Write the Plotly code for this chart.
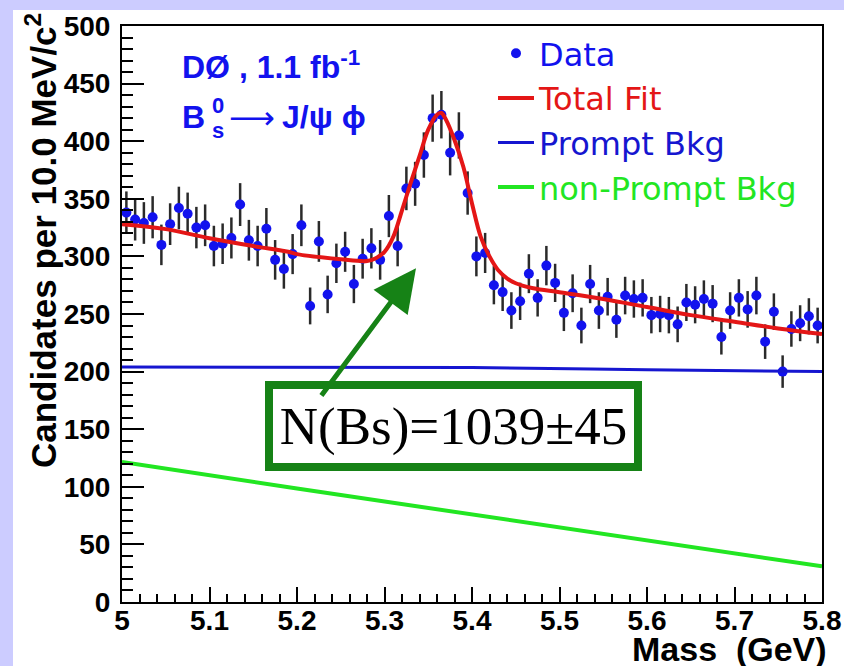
import plotly.graph_objects as go

# ---------------- data ----------------
bin_lo = 5.005
bin_width = 0.01
counts = [338, 332, 329, 334, 310, 328, 342, 337, 325, 327,
          309, 311, 316, 345, 314, 309, 324, 297, 289, 302,
          327, 257, 313, 267, 294, 304, 276, 298, 307, 297,
          335, 309, 359, 363, 388, 420, 423, 390, 405, 355,
          300, 303, 275, 269, 253, 261, 285, 264, 292, 277,
          251, 268, 240, 276, 253, 265, 245, 266, 263, 264,
          249, 250, 249, 241, 260, 258, 263, 259, 230, 253,
          264, 254, 266, 226, 252, 200, 237, 242, 248, 240]
errors = [18.4, 18.2, 18.1, 18.3, 17.6, 18.1, 18.5, 18.4, 18.0, 18.1,
          17.6, 17.6, 17.8, 18.6, 17.7, 17.6, 18.0, 17.2, 17.0, 17.4,
          18.1, 16.0, 17.7, 16.3, 17.1, 17.4, 16.6, 17.3, 17.5, 17.2,
          18.3, 17.6, 18.9, 19.1, 19.7, 20.5, 20.6, 19.7, 20.1, 18.8,
          17.3, 17.4, 16.6, 16.4, 15.9, 16.2, 16.9, 16.2, 17.1, 16.6,
          15.8, 16.4, 15.5, 16.6, 15.9, 16.3, 15.7, 16.3, 16.2, 16.2,
          15.8, 15.8, 15.8, 15.5, 16.1, 16.1, 16.2, 16.1, 15.2, 15.9,
          16.2, 15.9, 16.3, 15.0, 15.9, 14.1, 15.4, 15.6, 15.7, 15.5]
mass = [round(bin_lo + bin_width * i, 3) for i in range(len(counts))]

fit_mass = [5.00, 5.05, 5.10, 5.15, 5.19, 5.20, 5.25, 5.28, 5.29, 5.30,
            5.31, 5.32, 5.33, 5.34, 5.35, 5.36, 5.365, 5.37, 5.38, 5.39,
            5.40, 5.41, 5.42, 5.43, 5.44, 5.45, 5.47, 5.50, 5.55, 5.60,
            5.65, 5.70, 5.75, 5.80]
fit_vals = [328, 323.7, 315.8, 309, 304, 302, 297.5, 296, 298.4, 304,
            317, 340, 364, 387, 410, 423, 424.5, 419, 401, 378,
            346, 317, 300, 288, 281, 276.7, 272.3, 268.9, 263, 256,
            249, 243.3, 237.5, 232.6]

prompt_mass = [5.0, 5.4, 5.6, 5.8]
prompt_vals = [204, 203.5, 201.5, 200]

nonprompt_mass = [5.0, 5.2, 5.8]
nonprompt_vals = [121.5, 98.5, 31]

x_ticks = [5.0, 5.1, 5.2, 5.3, 5.4, 5.5, 5.6, 5.7, 5.8]
x_ticktext = ["5", "5.1", "5.2", "5.3", "5.4", "5.5", "5.6", "5.7", "5.8"]
y_ticks = [0, 50, 100, 150, 200, 250, 300, 350, 400, 450, 500]

yield_text = "N(Bs)=1039±45"
# ---------------------------------------------------------------

W, H = 844, 666
L, R, T, B = 122, 22, 26, 64
PW, PH = W - L - R, H - T - B


def px_x(p):
    return (p - L) / PW


def px_y(p):
    return (H - B - p) / PH


BLUE = "#1212ee"
RED = "#e41616"
PBLUE = "#1616d0"
GREEN = "#22e622"
DGREEN = "#168216"
FONT = "Liberation Sans, Arial, sans-serif"
LEGFONT = "DejaVu Sans, Liberation Sans, sans-serif"

fig = go.Figure()

fig.add_trace(go.Scatter(
    x=mass, y=counts, mode="markers",
    name=f"<span style='color:{BLUE}'>Data</span>",
    marker=dict(color=BLUE, size=10),
    error_y=dict(type="data", array=errors, color="#2a2a2a", thickness=2.5, width=0),
))
fig.add_trace(go.Scatter(
    x=fit_mass, y=fit_vals, mode="lines", line_shape="spline",
    name=f"<span style='color:{RED}'>Total Fit</span>",
    line=dict(color=RED, width=4),
))
fig.add_trace(go.Scatter(
    x=prompt_mass, y=prompt_vals, mode="lines", line_shape="spline",
    name=f"<span style='color:{PBLUE}'>Prompt Bkg</span>",
    line=dict(color=PBLUE, width=3),
))
fig.add_trace(go.Scatter(
    x=nonprompt_mass, y=nonprompt_vals, mode="lines", line_shape="spline",
    name=f"<span style='color:{GREEN}'>non-Prompt Bkg</span>",
    line=dict(color=GREEN, width=4),
))

tickfont = dict(family=FONT, size=28, color="black", weight="bold")

fig.update_layout(
    width=W, height=H,
    margin=dict(l=L, r=R, t=T, b=B, autoexpand=False),
    paper_bgcolor="#ccccff",
    plot_bgcolor="white",
    showlegend=True,
    legend=dict(
        x=px_x(493), y=px_y(26), xanchor="left", yanchor="top",
        bgcolor="rgba(0,0,0,0)", font=dict(family=LEGFONT, size=32),
        itemwidth=36, tracegroupgap=0,
    ),
    xaxis=dict(
        range=[5.0, 5.8], showgrid=False, zeroline=False, automargin=False,
        showline=True, linecolor="black", linewidth=2, mirror=True,
        ticks="inside", ticklen=15, tickwidth=2, tickcolor="black",
        tickvals=x_ticks, ticktext=x_ticktext, tickfont=tickfont,
        ticklabelstandoff=-8,
        minor=dict(ticks="inside", ticklen=8, tickwidth=2, tickcolor="black",
                   dtick=0.02, showgrid=False),
    ),
    yaxis=dict(
        range=[0, 500], showgrid=False, zeroline=False, automargin=False,
        showline=True, linecolor="black", linewidth=2, mirror=True,
        ticks="inside", ticklen=22, tickwidth=2, tickcolor="black",
        tickvals=y_ticks, tickfont=tickfont, ticklabelstandoff=4,
        minor=dict(ticks="inside", ticklen=11, tickwidth=2, tickcolor="black",
                   dtick=10, showgrid=False),
    ),
    shapes=[dict(type="rect", xref="paper", yref="paper",
                 x0=px_x(13), x1=px_x(W + 5), y0=px_y(H + 5), y1=px_y(10),
                 fillcolor="white", line=dict(width=0), layer="below")],
)

ann = []
# axis titles
ann.append(dict(xref="paper", yref="paper", x=px_x(41), y=px_y(241),
                text="Candidates per 10.0 MeV/c<sup>2</sup>", textangle=-90,
                showarrow=False, xanchor="center", yanchor="middle",
                font=dict(family=FONT, size=35, color="black", weight="bold")))
ann.append(dict(xref="paper", yref="paper", x=px_x(829), y=px_y(649),
                text="Mass  (GeV)", showarrow=False, xanchor="right", yanchor="middle",
                font=dict(family=FONT, size=34, color="black", weight="bold")))
# experiment labels
lab = dict(family=FONT, size=32, color=BLUE, weight="bold")
ann.append(dict(xref="paper", yref="paper", x=px_x(180), y=px_y(65),
                text="DØ , 1.1 fb<sup>-1</sup>", showarrow=False,
                xanchor="left", yanchor="middle", font=lab))
ann.append(dict(xref="paper", yref="paper", x=px_x(180), y=px_y(117),
                text="B", showarrow=False, xanchor="left", yanchor="middle", font=lab))
ann.append(dict(xref="paper", yref="paper", x=px_x(210), y=px_y(106),
                text="0", showarrow=False, xanchor="left", yanchor="middle",
                font=dict(family=FONT, size=22, color=BLUE, weight="bold")))
ann.append(dict(xref="paper", yref="paper", x=px_x(210), y=px_y(130),
                text="s", showarrow=False, xanchor="left", yanchor="middle",
                font=dict(family=FONT, size=22, color=BLUE, weight="bold")))
ann.append(dict(xref="paper", yref="paper", x=px_x(227), y=px_y(118),
                text="⟶", showarrow=False, xanchor="left", yanchor="middle",
                font=dict(family="DejaVu Sans", size=32, color=BLUE)))
ann.append(dict(xref="paper", yref="paper", x=px_x(280), y=px_y(117),
                text="J/ψ ϕ", showarrow=False, xanchor="left", yanchor="middle", font=lab))
# yield box
ann.append(dict(xref="x", yref="y", x=5.379, y=152.6, text=yield_text,
                showarrow=False, xanchor="center", yanchor="middle",
                font=dict(family="Liberation Serif, Times New Roman, serif", size=53, color="black"),
                bgcolor="white", bordercolor=DGREEN, borderwidth=8, borderpad=2,
                width=357, height=70))
# arrow
ann.append(dict(xref="x", yref="y", x=5.336, y=289.7, axref="x", ayref="y",
                ax=5.2266, ay=178, text="", showarrow=True,
                arrowcolor=DGREEN, arrowwidth=5, arrowhead=2, arrowsize=1.7, standoff=0))
fig.update_layout(annotations=ann)

fig.write_html("out.html", config={"displayModeBar": False},
               post_script="document.body.style.margin='0px';")
